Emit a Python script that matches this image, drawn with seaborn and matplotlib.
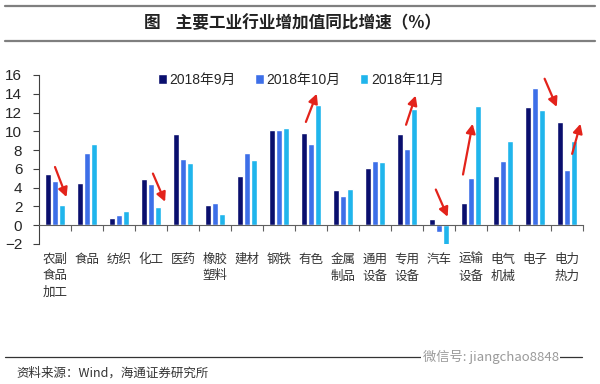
import numpy as np
import pandas as pd
import matplotlib
matplotlib.use("Agg")
import matplotlib.pyplot as plt
import seaborn as sns

# industries (x axis) and three months of YoY value-added growth, %
industries = ["农副\n食品\n加工", "食品", "纺织", "化工", "医药", "橡胶\n塑料", "建材", "钢铁",
              "有色", "金属\n制品", "通用\n设备", "专用\n设备", "汽车", "运输\n设备",
              "电气\n机械", "电子", "电力\n热力"]
sep_2018 = [5.5, 4.5, 0.8, 4.9, 9.7, 2.2, 5.2, 10.1, 9.8, 3.7, 6.1, 9.7, 0.7, 2.4, 5.2, 12.6, 11.0]
oct_2018 = [4.7, 7.7, 1.1, 4.4, 7.0, 2.4, 7.7, 10.1, 8.6, 3.1, 6.8, 8.1, -0.7, 5.0, 6.8, 14.6, 5.9]
nov_2018 = [2.2, 8.6, 1.5, 1.9, 6.6, 1.2, 6.9, 10.4, 12.8, 3.9, 6.7, 12.4, -2.1, 12.7, 9.0, 12.3, 9.0]
months = ["2018年9月", "2018年10月", "2018年11月"]
colors = ["#0A0F6E", "#3D6FE8", "#20B5EC"]

# red trend arrows: (x_from, y_from, x_to, y_to) in data units
arrows = [(0.0, 6.2, 0.36, 3.0), (3.06, 5.5, 3.44, 2.5), (7.84, 11.0, 8.18, 14.0),
          (10.97, 10.7, 11.27, 13.8), (11.9, 3.8, 12.27, 0.9), (12.75, 5.4, 13.05, 10.8),
          (15.3, 15.6, 15.68, 12.6), (16.16, 7.6, 16.42, 10.8)]

df = pd.DataFrame({
    "industry": industries * 3,
    "month": np.repeat(months, len(industries)),
    "value": sep_2018 + oct_2018 + nov_2018,
})

sns.set_style("white")
plt.rcParams["font.family"] = ["Liberation Sans", "Noto Sans CJK SC"]

fig = plt.figure(figsize=(6, 3.84), dpi=100)
ax = fig.add_axes([0.065, 0.3646, 0.9067, 0.4401])

sns.barplot(data=df, x="industry", y="value", hue="month", palette=colors,
            width=0.63, gap=0.1, ax=ax, saturation=1)

ax.set_xlim(-0.5, len(industries) - 0.5)
ax.set_ylim(-2, 16)
ax.set_yticks(range(-2, 17, 2))
ax.set_xlabel("")
ax.set_ylabel("")

for s in ["top", "right"]:
    ax.spines[s].set_visible(False)
ax.spines["left"].set_color("#404040")
ax.spines["bottom"].set_position(("data", 0))
ax.spines["bottom"].set_color("#606060")

ax.tick_params(axis="y", direction="out", length=4, width=0.8, color="#404040",
               pad=8, labelsize=11, left=True)
ax.tick_params(axis="x", which="major", length=0, pad=20)
ax.set_xticks(np.arange(0.5, len(industries), 1), minor=True)
ax.tick_params(axis="x", which="minor", direction="out", length=4, width=0.8,
               color="#606060", bottom=True)
for lbl in ax.get_xticklabels():
    lbl.set_fontfamily("Noto Sans CJK SC")
    lbl.set_fontsize(9)
    lbl.set_linespacing(1.35)
    lbl.set_color("#333333")

for x0, y0, x1, y1 in arrows:
    ax.annotate("", xy=(x1, y1), xytext=(x0, y0),
                arrowprops=dict(arrowstyle="-|>,head_length=0.55,head_width=0.28",
                                color="#E3231B", lw=1.6, shrinkA=0, shrinkB=0))

ax.legend(loc="center", bbox_to_anchor=(0.502, 0.792), bbox_transform=fig.transFigure,
          ncol=3, frameon=False, fontsize=10, handlelength=0.6, handleheight=0.8,
          handletextpad=0.2, columnspacing=1.4, borderpad=0)

# header / footer decoration
fig.add_artist(plt.Line2D([0.008, 0.992], [1 - 6 / 384, 1 - 6 / 384], color="#7F7F7F", lw=1.6))
fig.add_artist(plt.Line2D([0.008, 0.992], [1 - 41 / 384, 1 - 41 / 384], color="#7F7F7F", lw=1.6))
fig.text(0.488, 1 - 23 / 384, "图    主要工业行业增加值同比增速（%）", ha="center", va="center",
         fontsize=12, fontweight="semibold", family=["Noto Sans CJK SC"], color="#222222")
fig.add_artist(plt.Line2D([0.008, 0.97], [1 - 357 / 384, 1 - 357 / 384], color="#333333", lw=0.9))
fig.text(0.027, 1 - 373 / 384, "资料来源：Wind，海通证券研究所", ha="left", va="center",
         fontsize=9, family=["Noto Sans CJK SC", "Liberation Sans"], color="#333333")
fig.text(0.818, 1 - 357 / 384, "微信号: jiangchao8848", ha="center", va="center",
         fontsize=9.5, family=["Noto Sans CJK SC"], color="#9A9A9A",
         bbox=dict(facecolor="white", edgecolor="none", pad=1))

fig.savefig("out.png", dpi=100, facecolor="white")
